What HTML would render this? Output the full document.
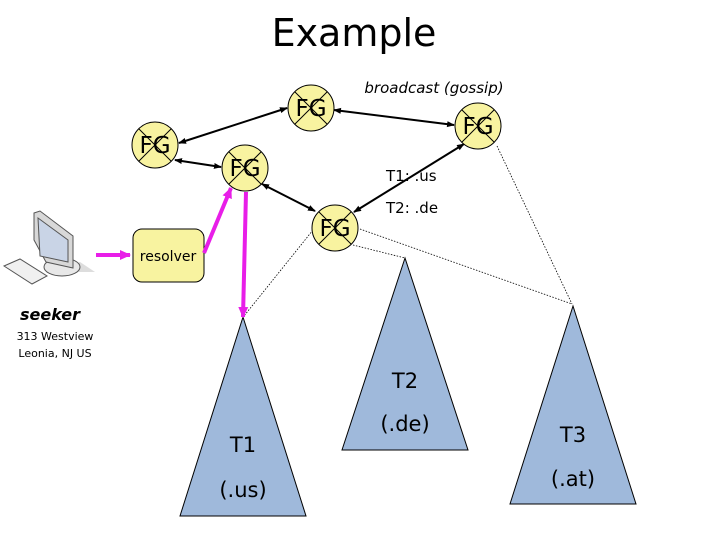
<!DOCTYPE html>
<html><head><meta charset="utf-8"><style>
html,body{margin:0;padding:0;background:#fff;}
svg{display:block;}
text{font-family:"DejaVu Sans","Liberation Sans",sans-serif;}
</style></head><body>
<svg width="720" height="540" viewBox="0 0 720 540" xmlns="http://www.w3.org/2000/svg">
<defs>
<marker id="a" markerWidth="8" markerHeight="8" refX="7" refY="4" orient="auto-start-reverse" markerUnits="userSpaceOnUse"><path d="M0,1 L8,4 L0,7 z" fill="#000"/></marker>
<marker id="p" markerWidth="12" markerHeight="12" refX="10" refY="6" orient="auto" markerUnits="userSpaceOnUse"><path d="M0,1 L11,6 L0,11 z" fill="#e81ee8"/></marker>
</defs>
<text x="354" y="46" font-size="38" text-anchor="middle" font-family="DejaVu Sans" fill="#000">Example</text>

<g stroke="#000" stroke-width="0.8" stroke-dasharray="1.5,1.5" fill="none">
<path d="M313,230 L244,316"/>
<path d="M353,245 L405,258"/>
<path d="M360,229 L572,304"/>
<path d="M497,146 L572,304"/>
</g>

<g fill="#9fb9db" stroke="#000" stroke-width="1">
<path d="M243,317 L180,516 L306,516 Z"/>
<path d="M405,258 L342,450 L468,450 Z"/>
<path d="M573,306 L510,504 L636,504 Z"/>
</g>
<g font-size="21" text-anchor="middle" fill="#000">
<text x="243" y="452">T1</text><text x="243" y="497">(.us)</text>
<text x="405" y="388">T2</text><text x="405" y="431">(.de)</text>
<text x="573" y="442">T3</text><text x="573" y="486">(.at)</text>
</g>

<g stroke="#000" stroke-width="2" marker-start="url(#a)" marker-end="url(#a)">
<line x1="179" y1="143" x2="287" y2="108"/>
<line x1="175" y1="160" x2="221" y2="167"/>
<line x1="262" y1="184" x2="315" y2="211"/>
<line x1="334" y1="110" x2="454" y2="125"/>
<line x1="464" y1="144" x2="354" y2="212"/>
</g>

<g stroke="#000" stroke-width="1" fill="#f8f3a0">
<g transform="translate(155,145)"><circle r="23"/><line x1="-16" y1="-16" x2="16" y2="16"/><line x1="16" y1="-16" x2="-16" y2="16"/></g>
<g transform="translate(311,108)"><circle r="23"/><line x1="-16" y1="-16" x2="16" y2="16"/><line x1="16" y1="-16" x2="-16" y2="16"/></g>
<g transform="translate(245,168)"><circle r="23"/><line x1="-16" y1="-16" x2="16" y2="16"/><line x1="16" y1="-16" x2="-16" y2="16"/></g>
<g transform="translate(335,228)"><circle r="23"/><line x1="-16" y1="-16" x2="16" y2="16"/><line x1="16" y1="-16" x2="-16" y2="16"/></g>
<g transform="translate(478,126)"><circle r="23"/><line x1="-16" y1="-16" x2="16" y2="16"/><line x1="16" y1="-16" x2="-16" y2="16"/></g>
</g>
<g font-size="23" text-anchor="middle" fill="#000" font-family="Liberation Sans">
<text x="155" y="153">FG</text><text x="311" y="116">FG</text><text x="245" y="176">FG</text><text x="335" y="236">FG</text><text x="478" y="134">FG</text>
</g>

<text x="434" y="93" font-size="15" font-style="italic" text-anchor="middle">broadcast (gossip)</text>
<text x="386" y="181" font-size="15">T1: .us</text>
<text x="386" y="213" font-size="15">T2: .de</text>

<rect x="133" y="229" width="71" height="53" rx="9" fill="#f8f3a0" stroke="#000" stroke-width="1"/>
<text x="168" y="261" font-size="14" text-anchor="middle">resolver</text>

<g stroke="#e81ee8" stroke-width="4" fill="none">
<line x1="96" y1="255" x2="130" y2="255" marker-end="url(#p)"/>
<line x1="204" y1="253" x2="231" y2="188" marker-end="url(#p)"/>
<line x1="246" y1="192" x2="243" y2="317" marker-end="url(#p)"/>
</g>

<g stroke="#555" stroke-width="1">
<path d="M50,272 L95,272 L80,262 Z" fill="#ddd" stroke="none"/>
<ellipse cx="62" cy="267" rx="18" ry="9" fill="#e8e8e8"/>
<polygon points="34,213 40,211 73,236 73,268 46,262 34,240" fill="#d8d8d8"/>
<polygon points="38,218 68,240 68,262 40,256" fill="#c9d4e6"/>
<polygon points="4,266 20,259 47,276 32,284" fill="#f0f0f0"/>
</g>

<text x="50" y="320" font-size="16" font-style="italic" font-weight="bold" text-anchor="middle">seeker</text>
<text x="55" y="340" font-size="11" text-anchor="middle">313 Westview</text>
<text x="55" y="357" font-size="11" text-anchor="middle">Leonia, NJ US</text>
</svg>
</body></html>
